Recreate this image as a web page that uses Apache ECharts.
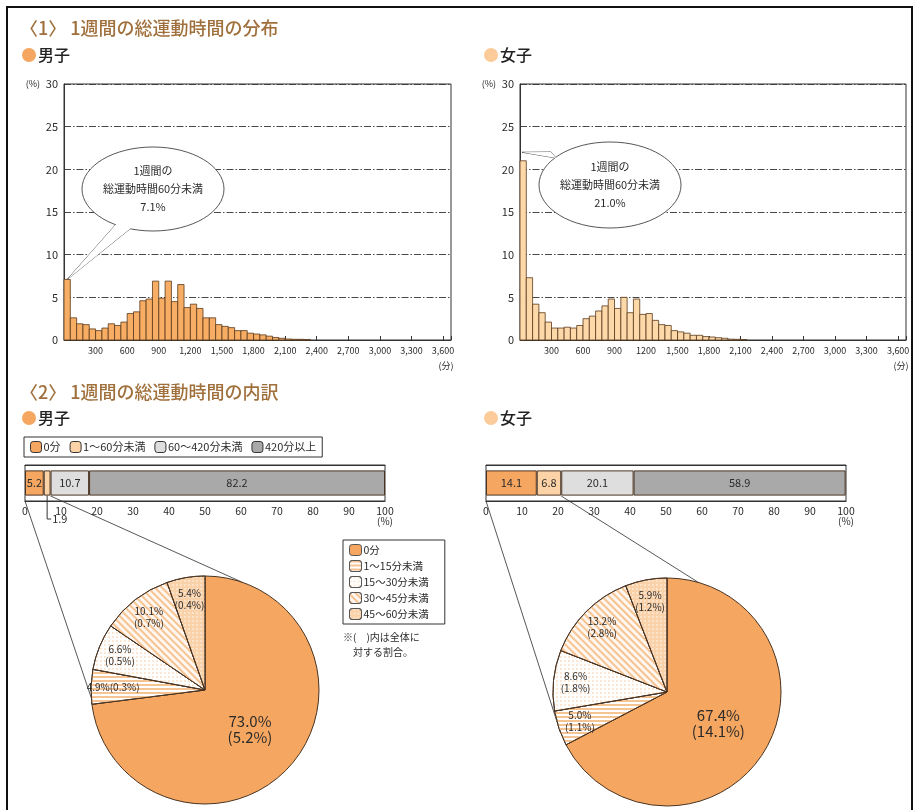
<!DOCTYPE html>
<html>
<head>
<meta charset="utf-8">
<script src="https://cdn.jsdelivr.net/npm/echarts@6/dist/echarts.min.js"></script>
<style>
html,body{margin:0;padding:0;background:#fff;}
#c{width:919px;height:810px;}
</style>
</head>
<body>
<div id="c"></div>
<script>
// ---- data ----
const binWidth = 60; // minutes per histogram bin
const boysWeekly = [7.1, 2.6, 1.9, 1.8, 1.3, 1.1, 1.4, 1.9, 1.7, 2.1, 3.1, 3.3, 4.6, 4.8, 6.9, 4.9, 6.9, 4.5, 6.5, 3.8,
  4.2, 3.7, 2.6, 2.6, 1.8, 1.6, 1.45, 1.1, 1.1, 0.8, 0.7, 0.6, 0.45, 0.3, 0.2, 0.12, 0.08, 0.08, 0.06];
const girlsWeekly = [21.0, 7.3, 4.2, 3.2, 2.1, 1.4, 1.4, 1.5, 1.4, 1.7, 2.5, 2.8, 3.4, 4.0, 4.8, 3.7, 5.0, 3.2, 4.8, 3.0,
  3.1, 2.3, 1.8, 1.7, 1.1, 0.95, 0.8, 0.55, 0.55, 0.4, 0.35, 0.27, 0.2, 0.1, 0.08, 0.06];
const boysMinuteLabels = ['300', '600', '900', '1,200', '1,500', '1,800', '2,100', '2,400', '2,700', '3,000', '3,300', '3,600'];
const girlsMinuteLabels = ['300', '600', '900', '1200', '1,500', '1,800', '2,100', '2,400', '2,700', '3,000', '3,300', '3,600'];

const bandNames = ['0分', '1～60分未満', '60～420分未満', '420分以上'];
const boysBands = [5.2, 1.9, 10.7, 82.2];
const girlsBands = [14.1, 6.8, 20.1, 58.9];

const detailNames = ['0分', '1～15分未満', '15～30分未満', '30～45分未満', '45～60分未満'];
const boysDetail = [73.0, 4.9, 6.6, 10.1, 5.4];
const boysDetailOfAll = [5.2, 0.3, 0.5, 0.7, 0.4];
const girlsDetail = [67.4, 5.0, 8.6, 13.2, 5.9];
const girlsDetailOfAll = [14.1, 1.1, 1.8, 2.8, 1.2];

// ---- styling ----
const FONT = '"Noto Sans CJK JP", "Noto Sans", sans-serif';
const INK = '#2b2b2b';
const TITLE = '#a0703c';
const ORANGE = '#f5a660';
const PEACH = '#fcd3a6';
const EDGE = '#4a3422';
const bandColors = [ORANGE, PEACH, '#dedede', '#a9a9a9'];

const detailStyles = [
  { color: ORANGE, borderColor: EDGE, borderWidth: 1 },
  { color: '#ffffff', borderColor: EDGE, borderWidth: 1,
    decal: { symbol: 'rect', dashArrayX: [1, 0], dashArrayY: [1.5, 2], color: '#f6c392' } },
  { color: '#ffffff', borderColor: EDGE, borderWidth: 1,
    decal: { symbol: 'circle', symbolSize: 0.8, dashArrayX: [[1.6, 2]], dashArrayY: [1.6, 2], color: '#f8c99a' } },
  { color: '#fff7ef', borderColor: EDGE, borderWidth: 1,
    decal: { symbol: 'rect', dashArrayX: [1, 0], dashArrayY: [1.5, 2.5], rotation: Math.PI / 4, color: '#f6c392' } },
  { color: '#fad2aa', borderColor: EDGE, borderWidth: 1,
    decal: { symbol: 'circle', symbolSize: 0.7, dashArrayX: [[2, 2]], dashArrayY: [2, 2], color: '#ffffff' } }
];

// ---- layout ----
const histGrids = [
  { left: 64, top: 84, width: 387, height: 256 },
  { left: 520, top: 84, width: 386, height: 256 }
];
const bandGrids = [
  { left: 25, top: 465, width: 360, height: 36 },
  { left: 486, top: 465, width: 360, height: 36 }
];
const pieR = 114;
const pieCenters = [[205, 690], [667, 692]];
const HIST_MAX = 3675;

function histSeries(values, idx, fill) {
  return {
    type: 'custom',
    xAxisIndex: idx, yAxisIndex: idx,
    silent: true,
    data: values.map((v, i) => [i * binWidth, (i + 1) * binWidth, v]),
    encode: { x: [0, 1], y: 2 },
    renderItem(params, api) {
      const top = api.coord([api.value(0), api.value(2)]);
      const base = api.coord([api.value(1), 0]);
      return {
        type: 'rect',
        shape: { x: top[0], y: top[1], width: base[0] - top[0], height: base[1] - top[1] },
        style: { fill, stroke: '#5a3a1c', lineWidth: 0.8 }
      };
    }
  };
}

function histX(idx, labels) {
  return {
    type: 'value', gridIndex: idx, min: 0, max: HIST_MAX, interval: 300,
    axisLine: { show: true, lineStyle: { color: '#333', width: 1 } },
    axisTick: { show: true, inside: true, length: 4, lineStyle: { color: '#333' } },
    axisLabel: {
      fontSize: 9, color: INK, fontFamily: FONT, margin: 6,
      formatter: v => (v > 0 && v <= 3600 && v % 300 === 0) ? labels[v / 300 - 1] : ''
    },
    splitLine: { show: false }
  };
}
function histY(idx) {
  return {
    type: 'value', gridIndex: idx, min: 0, max: 30, interval: 5,
    axisLine: { show: true, lineStyle: { color: '#333', width: 1 } },
    axisTick: { show: false },
    axisLabel: { fontSize: 11, color: INK, fontFamily: FONT, margin: 6 },
    splitLine: { show: true, lineStyle: { color: '#333', width: 0.9, type: [7, 2, 1.5, 2] } }
  };
}

function bandXBottom(idx) {
  return {
    type: 'value', gridIndex: idx, min: 0, max: 100, interval: 10, position: 'bottom',
    axisLine: { show: true, lineStyle: { color: '#333' } },
    axisTick: { inside: true, length: 4, lineStyle: { color: '#333' } },
    axisLabel: { fontSize: 10.5, color: INK, fontFamily: FONT, margin: 5 },
    splitLine: { show: false }
  };
}
function bandXTop(idx) {
  return {
    type: 'value', gridIndex: idx, min: 0, max: 100, interval: 10, position: 'top',
    axisLine: { show: true, lineStyle: { color: '#333' } },
    axisTick: { inside: true, length: 4, lineStyle: { color: '#333' } },
    axisLabel: { show: false },
    splitLine: { show: false }
  };
}
function bandY(idx, name) {
  return { type: 'category', gridIndex: idx, data: [name], show: false };
}

function bandSeries(values, gridIdx, hideSmall) {
  return values.map((v, i) => ({
    type: 'bar', name: bandNames[i], stack: 'band' + gridIdx,
    xAxisIndex: gridIdx * 2 + 2, yAxisIndex: gridIdx + 2,
    barWidth: '70%', silent: true,
    itemStyle: { color: bandColors[i], borderColor: EDGE, borderWidth: 1 },
    label: {
      show: !(hideSmall && i === 1), position: 'inside',
      fontSize: 11, color: INK, fontFamily: FONT,
      formatter: p => p.value.toFixed(1)
    },
    data: [v]
  }));
}

function pieSeries(values, ofAll, center) {
  return {
    type: 'pie', center, radius: pieR, startAngle: 90, clockwise: true,
    avoidLabelOverlap: false, silent: true,
    labelLine: { show: false },
    data: values.map((v, i) => ({
      name: detailNames[i], value: v, itemStyle: detailStyles[i],
      label: {
        show: i === 0, position: 'inside', fontSize: 15, lineHeight: 16, color: INK, fontFamily: FONT,
        formatter: () => v.toFixed(1) + '%\n(' + ofAll[i].toFixed(1) + '%)'
      }
    }))
  };
}
// transparent ring that carries the labels of the narrow slices near the rim
function pieLabelRing(values, ofAll, center, singleLineFirst) {
  return {
    type: 'pie', center, radius: [pieR * 0.56, pieR], startAngle: 90, clockwise: true,
    avoidLabelOverlap: false, silent: true, legendHoverLink: false,
    labelLine: { show: false },
    itemStyle: { color: 'rgba(0,0,0,0)', borderWidth: 0 },
    data: values.map((v, i) => ({
      name: detailNames[i], value: v,
      label: {
        show: i > 0, position: 'inside', fontSize: 10, lineHeight: 12, color: INK, fontFamily: FONT,
        formatter: () => v.toFixed(1) + '%' + ((singleLineFirst && i === 1) ? '' : '\n') + '(' + ofAll[i].toFixed(1) + '%)'
      }
    }))
  };
}

const chart = echarts.init(document.getElementById('c'), null, { renderer: 'canvas' });

chart.setOption({
  animation: false,
  backgroundColor: '#ffffff',
  textStyle: { fontFamily: FONT },
  grid: [
    ...histGrids.map(g => Object.assign({ show: true, borderColor: '#333', borderWidth: 1 }, g)),
    ...bandGrids.map(g => Object.assign({ show: true, borderColor: '#333', borderWidth: 1 }, g))
  ],
  xAxis: [
    histX(0, boysMinuteLabels), histX(1, girlsMinuteLabels),
    bandXBottom(2), bandXTop(2), bandXBottom(3), bandXTop(3)
  ],
  yAxis: [histY(0), histY(1), bandY(2, '男子'), bandY(3, '女子')],
  legend: [
    {
      data: bandNames, left: 24, top: 437, orient: 'horizontal',
      itemWidth: 11, itemHeight: 11, itemGap: 9, padding: [4, 6],
      borderColor: '#333', borderWidth: 1, selectedMode: false,
      itemStyle: { borderColor: '#333', borderWidth: 1 },
      textStyle: { fontSize: 11, color: INK, fontFamily: FONT, padding: [0, 0, 0, -3] }
    },
    {
      data: detailNames, left: 343, top: 540, orient: 'vertical',
      itemWidth: 12, itemHeight: 11, itemGap: 4, padding: [4, 16, 4, 6],
      borderColor: '#333', borderWidth: 1, selectedMode: false,
      itemStyle: { borderColor: '#555', borderWidth: 1 },
      textStyle: { fontSize: 10.5, color: INK, fontFamily: FONT, padding: [0, 0, 0, -3] }
    }
  ],
  series: [
    histSeries(boysWeekly, 0, '#f7ad63'),
    histSeries(girlsWeekly, 1, '#fdd8a9'),
    pieSeries(boysDetail, boysDetailOfAll, pieCenters[0]),
    pieSeries(girlsDetail, girlsDetailOfAll, pieCenters[1]),
    ...bandSeries(boysBands, 0, true),
    ...bandSeries(girlsBands, 1, false),
    pieLabelRing(boysDetail, boysDetailOfAll, pieCenters[0], true),
    pieLabelRing(girlsDetail, girlsDetailOfAll, pieCenters[1], false)
  ]
});

// ---- annotations ----
function px(gridIndex, val) { return chart.convertToPixel({ gridIndex }, val); }
function rimPoint(center, degFromTop) {
  const a = degFromTop * Math.PI / 180;
  return [center[0] + pieR * Math.sin(a), center[1] - pieR * Math.cos(a)];
}

function heading(x, y, text) {
  return { type: 'text', x, y, style: { text, font: '500 18px ' + FONT, fill: TITLE, textVerticalAlign: 'middle' } };
}
function subHeading(x, y, text, dot) {
  return [
    { type: 'circle', shape: { cx: x + 7, cy: y, r: 7 }, style: { fill: dot } },
    { type: 'text', x: x + 16, y, style: { text, font: '500 16px ' + FONT, fill: '#222', textVerticalAlign: 'middle' } }
  ];
}

function callout(cx, cy, rx, ry, tip, baseA, baseB, value) {
  const tail = [tip, baseA, baseB];
  return [
    { type: 'polygon', shape: { points: tail }, style: { fill: '#fff', stroke: '#444', lineWidth: 0.9 }, z: 10 },
    { type: 'ellipse', shape: { cx, cy, rx, ry }, style: { fill: '#fff', stroke: '#444', lineWidth: 0.9 }, z: 10 },
    { type: 'polygon', shape: { points: tail }, style: { fill: '#fff', stroke: null }, z: 11 },
    {
      type: 'text', x: cx, y: cy, z: 12,
      style: {
        text: '1週間の\n総運動時間60分未満\n' + value.toFixed(1) + '%',
        font: '11px ' + FONT, fill: INK, textAlign: 'center', textVerticalAlign: 'middle', lineHeight: 18
      }
    }
  ];
}

function axisNotes(g) {
  return [
    { type: 'text', x: g.left - 24, y: g.top, style: { text: '(%)', font: '9px ' + FONT, fill: INK, textAlign: 'right', textVerticalAlign: 'middle' } },
    { type: 'text', x: g.left + g.width - 5, y: g.top + g.height + 26, style: { text: '(分)', font: '9px ' + FONT, fill: INK, textAlign: 'center', textVerticalAlign: 'middle' } }
  ];
}

const gfx = [];
// outer frame
gfx.push({ type: 'rect', shape: { x: 7, y: 7, width: 905, height: 812 }, style: { fill: null, stroke: '#111', lineWidth: 2 }, z: 20 });
gfx.push(heading(20, 28, '〈1〉 1週間の総運動時間の分布'));
gfx.push(...subHeading(22, 55, '男子', ORANGE));
gfx.push(...subHeading(484, 55, '女子', '#fbcb9a'));
gfx.push(heading(20, 392, '〈2〉 1週間の総運動時間の内訳'));
gfx.push(...subHeading(22, 418, '男子', ORANGE));
gfx.push(...subHeading(484, 418, '女子', '#fbcb9a'));
gfx.push(...axisNotes(histGrids[0]), ...axisNotes(histGrids[1]));

// bubbles pointing at the first (under 60 min) bin
const tipB = px(0, [binWidth / 2, boysWeekly[0]]);
gfx.push(...callout(153, 189, 71, 42, tipB, [118, 222], [131, 228], boysWeekly[0]));
const tipG = px(1, [binWidth / 3, girlsWeekly[0] + 1]);
gfx.push(...callout(610, 185, 71, 43, tipG, [551, 152], [556, 158], girlsWeekly[0]));

// percent unit under the band axes
bandGrids.forEach(g => {
  gfx.push({ type: 'text', x: g.left + g.width, y: g.top + g.height + 20, style: { text: '(%)', font: '10px ' + FONT, fill: INK, textAlign: 'center', textVerticalAlign: 'middle' } });
});

// bracket label for the narrow boys segment
const midSmall = px(2, [boysBands[0] + boysBands[1] / 2, 0]);
const bandBottom = bandGrids[0].top + bandGrids[0].height;
const segBottom = bandGrids[0].top + bandGrids[0].height * 0.85;
gfx.push({ type: 'polyline', shape: { points: [[midSmall[0], segBottom], [midSmall[0], bandBottom + 18], [midSmall[0] + 4, bandBottom + 18]] }, style: { stroke: '#333', lineWidth: 1, fill: null } });
gfx.push({ type: 'text', x: midSmall[0] + 5, y: bandBottom + 18, style: { text: boysBands[1].toFixed(1), font: '11px ' + FONT, fill: INK, textVerticalAlign: 'middle' } });

// leader lines from the under-60-minute share of each band to its pie
[[0, boysBands, 266, 19], [1, girlsBands, 249, 16]].forEach(([k, bands, aLeft, aRight]) => {
  const y = bandGrids[k].top + bandGrids[k].height;
  const p0 = px(k + 2, [0, 0]);
  const p1 = px(k + 2, [bands[0] + bands[1], 0]);
  const c = pieCenters[k];
  gfx.push({ type: 'line', shape: { x1: p0[0], y1: y, x2: rimPoint(c, aLeft)[0], y2: rimPoint(c, aLeft)[1] }, style: { stroke: '#444', lineWidth: 0.9 } });
  gfx.push({ type: 'line', shape: { x1: p1[0], y1: y - 5, x2: rimPoint(c, aRight)[0], y2: rimPoint(c, aRight)[1] }, style: { stroke: '#444', lineWidth: 0.9 } });
});

// footnote beside the pie legend
gfx.push({ type: 'text', x: 343, y: 630, style: { text: '※(　)内は全体に\n　対する割合。', font: '10px ' + FONT, fill: INK, lineHeight: 15 } });

chart.setOption({ graphic: gfx });
</script>
</body>
</html>
